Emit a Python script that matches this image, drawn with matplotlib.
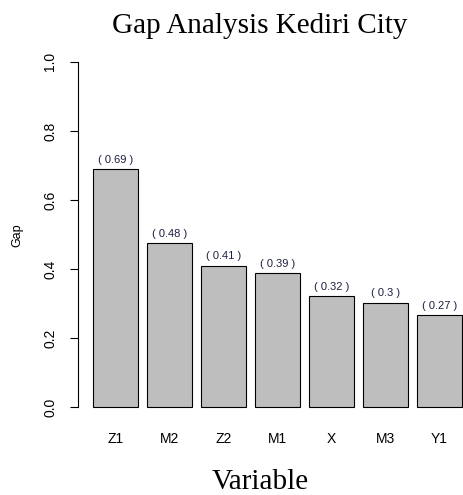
import numpy as np
import matplotlib.pyplot as plt

variables = ["Z1", "M2", "Z2", "M1", "X", "M3", "Y1"]
gaps = [0.69, 0.475, 0.41, 0.388, 0.322, 0.303, 0.267]
gap_labels = ["0.69", "0.48", "0.41", "0.39", "0.32", "0.3", "0.27"]
y_ticks = [0.0, 0.2, 0.4, 0.6, 0.8, 1.0]

W, H = 464, 495
fig = plt.figure(figsize=(W / 100, H / 100), dpi=100)

# plot region in pixels (R style, 4% padding)
left, right, top, bottom = 78, 464, 48, 421
ax = fig.add_axes([left / W, 1 - bottom / H, (right - left) / W, (bottom - top) / H])

x = 0.7 + 1.2 * np.arange(len(variables))
ax.bar(x, gaps, width=1.0, color="#bebebe", edgecolor="black", linewidth=0.8)

for xi, g, lab in zip(x, gaps, gap_labels):
    ax.text(xi, g + 0.012, f"( {lab} )", ha="center", va="bottom",
            fontsize=8, color="#1c2040", family="Liberation Sans")

ax.set_xlim(-0.128, (right - 84) / 45)
ax.set_ylim(-0.04, 1.04)

for s in ["top", "right", "bottom"]:
    ax.spines[s].set_visible(False)
ax.spines["left"].set_bounds(0, 1)
ax.spines["left"].set_linewidth(0.8)

ax.set_yticks(y_ticks)
ax.set_yticklabels([f"{t:.1f}" for t in y_ticks], rotation=90, va="center",
                   fontsize=10, family="Liberation Sans")
ax.tick_params(axis="y", length=5.8, width=0.8, pad=9)

ax.set_xticks(x)
ax.set_xticklabels(variables, fontsize=10, family="Liberation Sans")
ax.tick_params(axis="x", length=0, pad=8)

fig.text(17 / W, 1 - 235 / H, "Gap", rotation=90, ha="center", va="center",
         fontsize=9, family="Liberation Sans")
fig.text(260 / W, 1 - 33 / H, "Gap Analysis Kediri City", ha="center",
         va="baseline", fontsize=21, family="Liberation Serif")
fig.text(260 / W, 1 - 489 / H, "Variable", ha="center", va="baseline",
         fontsize=21, family="Liberation Serif")

fig.savefig("out.png", dpi=100)
